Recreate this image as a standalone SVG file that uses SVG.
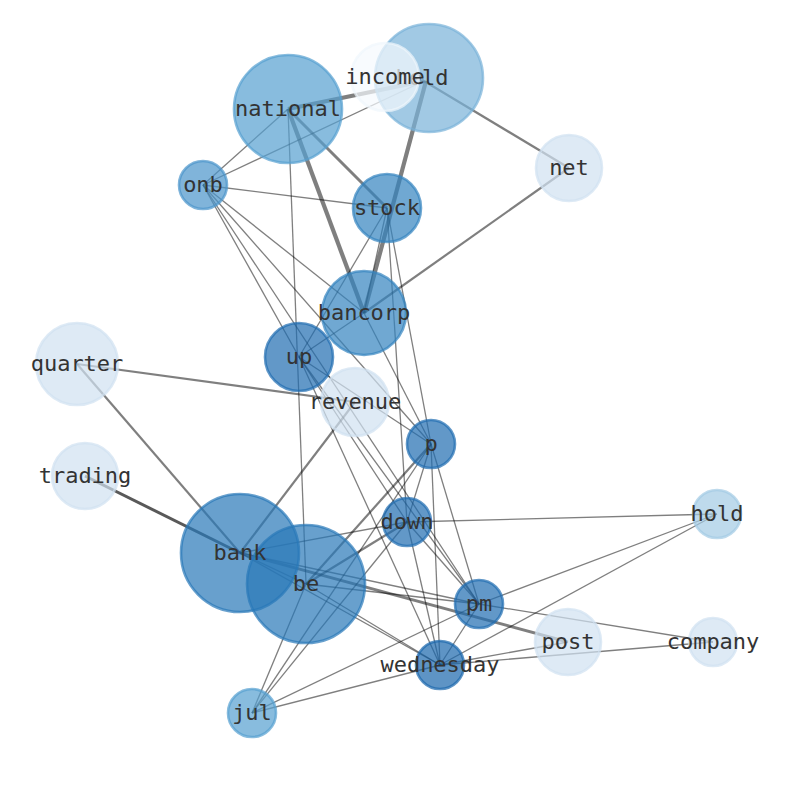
<svg xmlns="http://www.w3.org/2000/svg" width="794" height="790" viewBox="0 0 794 790">
<style>
.e{stroke:#000;stroke-opacity:0.5;stroke-width:1.3;fill:none}
.w2{stroke-width:2.2}
.w3{stroke-width:3}
.w4{stroke-width:4.2}
.dk{stroke-opacity:0.65}
.n circle{fill-opacity:0.7;stroke-opacity:0.7;stroke-width:2.6}
.t{font-family:"DejaVu Sans Mono","Liberation Mono",monospace;font-size:22px;fill:#333;text-anchor:middle;dominant-baseline:central}
</style>
<rect width="794" height="790" fill="#fff"/>
<g id="edges">
<line class="e w4" x1="288" y1="109" x2="424" y2="81"/>
<line class="e w4" x1="288" y1="109" x2="364" y2="313"/>
<line class="e w3" x1="288" y1="109" x2="387" y2="208"/>
<line class="e" x1="288" y1="109" x2="203" y2="185"/>
<line class="e" x1="288" y1="109" x2="306" y2="584"/>
<line class="e" x1="203" y1="185" x2="424" y2="81"/>
<line class="e" x1="203" y1="185" x2="387" y2="208"/>
<line class="e" x1="203" y1="185" x2="364" y2="313"/>
<line class="e" x1="203" y1="185" x2="431" y2="444"/>
<line class="e" x1="203" y1="185" x2="299" y2="357"/>
<line class="e" x1="203" y1="185" x2="479" y2="604"/>
<line class="e w4" x1="426" y1="81" x2="364" y2="313"/>
<line class="e w2" x1="424" y1="81" x2="569" y2="168"/>
<line class="e w2" x1="569" y1="168" x2="364" y2="313"/>
<line class="e" x1="387" y1="208" x2="299" y2="357"/>
<line class="e" x1="387" y1="208" x2="364" y2="313"/>
<line class="e" x1="387" y1="208" x2="407" y2="522"/>
<line class="e" x1="387" y1="208" x2="431" y2="444"/>
<line class="e" x1="364" y1="313" x2="299" y2="357"/>
<line class="e" x1="364" y1="313" x2="431" y2="444"/>
<line class="e" x1="299" y1="357" x2="431" y2="444"/>
<line class="e" x1="299" y1="357" x2="407" y2="522"/>
<line class="e" x1="299" y1="357" x2="479" y2="604"/>
<line class="e" x1="299" y1="357" x2="440" y2="665"/>
<line class="e w2" x1="77" y1="364" x2="355" y2="402"/>
<line class="e w2" x1="77" y1="364" x2="240" y2="553"/>
<line class="e w2" x1="355" y1="402" x2="240" y2="553"/>
<line class="e w3 dk" x1="85" y1="476" x2="240" y2="553"/>
<line class="e" x1="431" y1="444" x2="407" y2="522"/>
<line class="e" x1="431" y1="444" x2="479" y2="604"/>
<line class="e" x1="431" y1="444" x2="440" y2="665"/>
<line class="e" x1="431" y1="444" x2="252" y2="713"/>
<line class="e w2" x1="431" y1="444" x2="306" y2="584"/>
<line class="e" x1="407" y1="522" x2="717" y2="514"/>
<line class="e" x1="407" y1="522" x2="479" y2="604"/>
<line class="e" x1="407" y1="522" x2="440" y2="665"/>
<line class="e" x1="407" y1="522" x2="252" y2="713"/>
<line class="e" x1="407" y1="522" x2="240" y2="553"/>
<line class="e w2" x1="407" y1="522" x2="306" y2="584"/>
<line class="e" x1="479" y1="604" x2="717" y2="514"/>
<line class="e" x1="479" y1="604" x2="713" y2="642"/>
<line class="e" x1="479" y1="604" x2="440" y2="665"/>
<line class="e" x1="479" y1="604" x2="252" y2="713"/>
<line class="e" x1="479" y1="604" x2="240" y2="553"/>
<line class="e" x1="479" y1="604" x2="306" y2="584"/>
<line class="e" x1="440" y1="665" x2="717" y2="514"/>
<line class="e" x1="440" y1="665" x2="568" y2="642"/>
<line class="e" x1="440" y1="665" x2="713" y2="642"/>
<line class="e" x1="440" y1="665" x2="252" y2="713"/>
<line class="e" x1="440" y1="665" x2="240" y2="553"/>
<line class="e" x1="440" y1="665" x2="306" y2="584"/>
<line class="e" x1="252" y1="713" x2="306" y2="584"/>
<line class="e w3" x1="240" y1="553" x2="568" y2="642"/>
<line class="e" x1="240" y1="553" x2="306" y2="584"/>
</g>
<g id="node-national" class="n"><circle cx="288" cy="109" r="54" fill="#569fd0" stroke="#569fd0"/></g>
<g id="node-held" class="n"><circle cx="429" cy="78" r="54" fill="#79b2d8" stroke="#79b2d8"/><text class="t" x="422" y="77">held</text></g>
<g id="node-income" class="n"><circle cx="385" cy="77" r="34" fill="#f5f9fe" stroke="#f0f6fc"/></g>
<g id="node-onb" class="n"><circle cx="203" cy="185" r="24" fill="#4a94ca" stroke="#4a94ca"/></g>
<g id="node-stock" class="n"><circle cx="387" cy="208" r="34" fill="#3383bf" stroke="#3383bf"/></g>
<g id="node-net" class="n"><circle cx="569" cy="168" r="33" fill="#d0e1f1" stroke="#d0e1f1"/></g>
<g id="node-bancorp" class="n"><circle cx="364" cy="313" r="42" fill="#3383bf" stroke="#3383bf"/></g>
<g id="node-up" class="n"><circle cx="299" cy="357" r="34" fill="#1f6cb0" stroke="#1f6cb0"/></g>
<g id="node-quarter" class="n"><circle cx="77" cy="364" r="41" fill="#d0e1f1" stroke="#d0e1f1"/></g>
<g id="node-revenue" class="n"><circle cx="355" cy="402" r="34" fill="#d0e1f1" stroke="#d0e1f1"/></g>
<g id="node-p" class="n"><circle cx="431" cy="444" r="24" fill="#1f6cb0" stroke="#1f6cb0"/></g>
<g id="node-trading" class="n"><circle cx="85" cy="476" r="33" fill="#d0e1f1" stroke="#d0e1f1"/></g>
<g id="node-down" class="n"><circle cx="407" cy="522" r="24" fill="#1f6cb0" stroke="#1f6cb0"/></g>
<g id="node-hold" class="n"><circle cx="717" cy="514" r="24" fill="#a2cae4" stroke="#a2cae4"/></g>
<g id="node-bank" class="n"><circle cx="240" cy="553" r="59" fill="#2877b8" stroke="#2877b8"/></g>
<g id="node-be" class="n"><circle cx="306" cy="584" r="59" fill="#2877b8" stroke="#2877b8"/></g>
<g id="node-pm" class="n"><circle cx="479" cy="604" r="24" fill="#1f6cb0" stroke="#1f6cb0"/></g>
<g id="node-post" class="n"><circle cx="568" cy="642" r="33" fill="#d0e1f1" stroke="#d0e1f1"/></g>
<g id="node-company" class="n"><circle cx="713" cy="642" r="24" fill="#d0e1f1" stroke="#d0e1f1"/></g>
<g id="node-wednesday" class="n"><circle cx="440" cy="665" r="24" fill="#1a66ac" stroke="#1a66ac"/></g>
<g id="node-jul" class="n"><circle cx="252" cy="713" r="24" fill="#569fd0" stroke="#569fd0"/></g>
<g id="labels">
<text class="t" x="288" y="108">national</text>
<text class="t" x="385" y="76">income</text>
<text class="t" x="203" y="184">onb</text>
<text class="t" x="387" y="207">stock</text>
<text class="t" x="569" y="167">net</text>
<text class="t" x="364" y="312">bancorp</text>
<text class="t" x="299" y="356">up</text>
<text class="t" x="77" y="363">quarter</text>
<text class="t" x="355" y="401">revenue</text>
<text class="t" x="431" y="443">p</text>
<text class="t" x="85" y="475">trading</text>
<text class="t" x="407" y="521">down</text>
<text class="t" x="717" y="513">hold</text>
<text class="t" x="240" y="552">bank</text>
<text class="t" x="306" y="583">be</text>
<text class="t" x="479" y="603">pm</text>
<text class="t" x="568" y="641">post</text>
<text class="t" x="713" y="641">company</text>
<text class="t" x="440" y="664">wednesday</text>
<text class="t" x="252" y="712">jul</text>
</g>
</svg>
